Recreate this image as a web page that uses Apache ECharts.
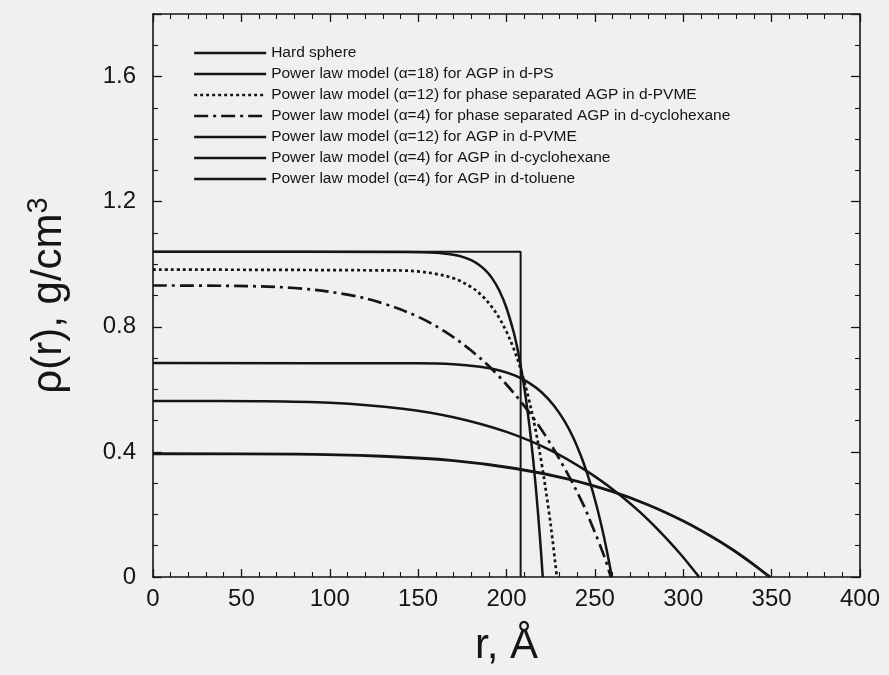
<!DOCTYPE html>
<html>
<head>
<meta charset="utf-8">
<script src="https://cdn.jsdelivr.net/npm/echarts@6/dist/echarts.min.js"></script>
<style>
html,body{margin:0;padding:0;background:#f0f0f0;}
#c{width:889px;height:675px;}
</style>
</head>
<body>
<div id="c"></div>
<script>
// Series names (legend order)
const seriesNames = [
  "Hard sphere",
  "Power law model (α=18) for AGP in d-PS",
  "Power law model (α=12) for phase separated AGP in d-PVME",
  "Power law model (α=4) for phase separated AGP in d-cyclohexane",
  "Power law model (α=12) for AGP in d-PVME",
  "Power law model (α=4) for AGP in d-cyclohexane",
  "Power law model (α=4) for AGP in d-toluene"
];

// [r (Å), rho (g/cm3)]
const hardSphere = [[0,1.04],[208,1.04],[208,0]];
const psAlpha18 = [[0,1.04],[140,1.039],[160,1.037],[170,1.03],[176,1.022],[180,1.013],[184,1.0],[188,0.981],[192,0.954],[196,0.915],[200,0.86],[204,0.784],[206,0.735],[208,0.676],[210,0.608],[212,0.527],[214,0.433],[216,0.322],[218,0.193],[219.5,0.082],[220.5,0]];
const pvmePhaseAlpha12 = [[0,0.983],[140,0.98],[150,0.977],[160,0.969],[170,0.955],[180,0.927],[186,0.9],[192,0.861],[196,0.827],[200,0.784],[204,0.731],[208,0.665],[212,0.583],[216,0.483],[220,0.359],[224,0.209],[226,0.121],[228.5,0]];
const cyclohexPhaseAlpha4 = [[0,0.932],[40,0.931],[80,0.924],[110,0.903],[130,0.875],[150,0.832],[165,0.785],[180,0.724],[195,0.646],[210,0.547],[222,0.452],[234,0.336],[244,0.225],[248,0.17],[252,0.115],[256,0.055],[259,0]];
const pvmeAlpha12 = [[0,0.684],[150,0.683],[170,0.68],[185,0.672],[195,0.662],[205,0.644],[213,0.62],[220,0.59],[227,0.547],[233,0.497],[238,0.443],[243,0.374],[247,0.307],[251,0.227],[255,0.132],[258,0.049],[259.6,0]];
const cyclohexAlpha4 = [[0,0.563],[60,0.562],[100,0.557],[140,0.539],[170,0.511],[200,0.464],[225,0.405],[245,0.34],[262,0.272],[276,0.205],[288,0.138],[298,0.076],[305,0.028],[309,0]];
const tolueneAlpha4 = [[0,0.394],[80,0.393],[130,0.386],[170,0.372],[205,0.347],[235,0.313],[260,0.273],[280,0.231],[300,0.179],[315,0.1325],[328,0.087],[340,0.039],[349,0]];

// axis ticks
const xMin = 0, xMax = 400, xStep = 50;
const yMin = 0, yMax = 1.8, yStep = 0.4;

const seriesData = [hardSphere, psAlpha18, pvmePhaseAlpha12, cyclohexPhaseAlpha4, pvmeAlpha12, cyclohexAlpha4, tolueneAlpha4];
const lineTypes = ['solid','solid',[3,3],[14,5,3,5],'solid','solid','solid'];
const lineWidths = [2,2.5,2.7,2.7,2.5,2.5,2.9];

const ink = '#151515';
const font = 'Liberation Sans, Arial, sans-serif';

const chart = echarts.init(document.getElementById('c'), null, {renderer:'canvas'});

function axisCommon(showLabel){
  return {
    axisLine:{show:true, onZero:false, lineStyle:{color:ink, width:1.6}},
    axisTick:{show:true, inside:true, length:9, lineStyle:{color:ink, width:1.3}},
    minorTick:{show:true, length:5, lineStyle:{color:ink, width:1.1}},
    splitLine:{show:false},
    axisLabel:{show:showLabel, color:ink, fontFamily:font, fontSize:24}
  };
}

const option = {
  backgroundColor:'#f0f0f0',
  animation:false,
  grid:{left:153, right:29, top:14, bottom:98},
  legend:{
    orient:'vertical', left:193, top:45, padding:0,
    itemWidth:72, itemHeight:14, itemGap:5,
    itemStyle:{opacity:0, borderWidth:0},
    lineStyle:{width:2.3},
    textStyle:{color:ink, fontFamily:font, fontSize:15.5},
    data:seriesNames
  },
  xAxis:[
    Object.assign(axisCommon(true), {
      type:'value', min:xMin, max:xMax, interval:xStep, position:'bottom',
      minorTick:{show:true, splitNumber:5, length:5, lineStyle:{color:ink, width:1.1}},
      axisTick:{show:true, inside:true, length:8, lineStyle:{color:ink, width:1.3}},
      axisLabel:{show:true, color:ink, fontFamily:font, fontSize:24, margin:10},
      name:'r, Å', nameLocation:'middle', nameGap:48,
      nameTextStyle:{color:ink, fontFamily:font, fontSize:42}
    }),
    Object.assign(axisCommon(false), {
      type:'value', min:xMin, max:xMax, interval:xStep, position:'top',
      minorTick:{show:true, splitNumber:5, length:5, lineStyle:{color:ink, width:1.1}},
      axisTick:{show:true, inside:true, length:8, lineStyle:{color:ink, width:1.3}}
    })
  ],
  yAxis:[
    Object.assign(axisCommon(true), {
      type:'value', min:yMin, max:yMax, interval:yStep, position:'left',
      minorTick:{show:true, splitNumber:4, length:5, lineStyle:{color:ink, width:1.1}},
      axisLabel:{show:true, color:ink, fontFamily:font, fontSize:24, margin:17,
        formatter:v=> v===0 ? '0' : v.toFixed(1), showMaxLabel:false},
      name:'ρ(r), g/cm{sup|3}', nameLocation:'middle', nameGap:78, nameRotate:90,
      nameTextStyle:{color:ink, fontFamily:font, fontSize:42,
        rich:{sup:{fontFamily:font, fontSize:29, color:ink, verticalAlign:'top', padding:[0,0,22,0]}}}
    }),
    Object.assign(axisCommon(false), {
      type:'value', min:yMin, max:yMax, interval:yStep, position:'right',
      minorTick:{show:true, splitNumber:4, length:5, lineStyle:{color:ink, width:1.1}}
    })
  ],
  series: seriesData.map((d,i)=>({
    name:seriesNames[i], type:'line', data:d,
    xAxisIndex:0, yAxisIndex:0,
    showSymbol:false, symbol:'none',
    smooth: i===0 ? false : 0.35,
    lineStyle:{color:ink, width:lineWidths[i], type:lineTypes[i]},
    itemStyle:{color:ink},
    z: 2
  }))
};
chart.setOption(option);
</script>
</body>
</html>
